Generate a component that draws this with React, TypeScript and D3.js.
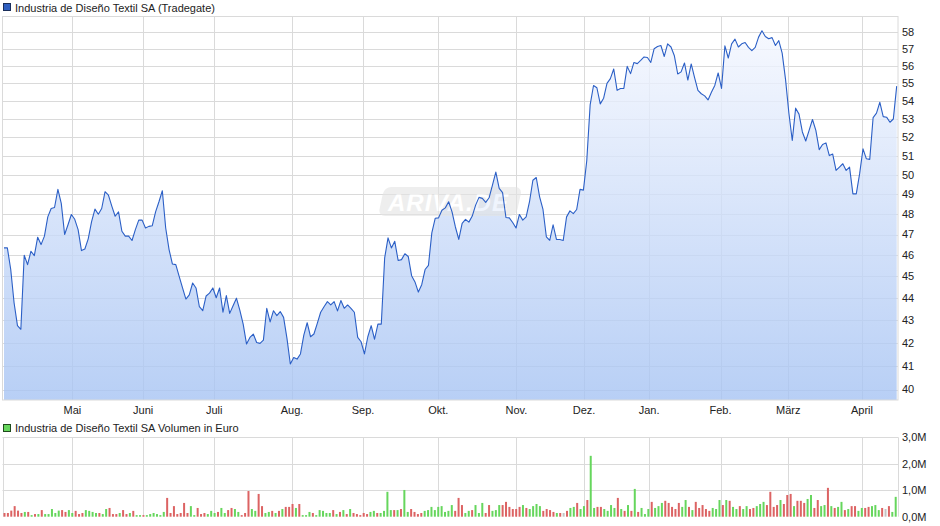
import React from "react";
import * as d3 from "d3";

// ---------- DATA ----------
const priceTitle = "Industria de Diseño Textil SA (Tradegate)";
const volumeTitle = "Industria de Diseño Textil SA Volumen in Euro";

const prices: number[] = [
  46.35, 46.35, 45.32, 43.77, 42.75, 42.59, 46.0, 45.55, 46.19, 45.98, 46.87, 46.51, 46.92, 47.87, 48.29, 48.34, 49.26, 48.55, 47.0, 47.48,
  47.99, 47.75, 47.24, 46.22, 46.3, 46.79, 47.63, 48.26, 48.0, 48.29, 49.14, 48.97, 48.41, 47.9, 48.12, 47.16, 46.92, 46.92, 46.71, 47.24,
  47.71, 47.71, 47.32, 47.4, 47.43, 48.12, 48.63, 49.19, 47.32, 46.27, 45.58, 45.55, 45.0, 44.46, 43.95, 44.14, 44.69, 44.46, 43.6, 43.42,
  44.09, 44.22, 44.46, 44.01, 44.46, 43.35, 44.11, 43.3, 43.64, 43.99, 43.45, 42.82, 41.94, 42.23, 42.38, 42.01, 41.97, 42.11, 43.53, 42.92,
  43.42, 43.2, 43.38, 43.12, 42.19, 41.08, 41.36, 41.29, 41.51, 42.33, 42.88, 42.26, 42.38, 42.85,
  43.35, 43.6, 43.83, 43.68, 43.83, 43.41, 43.88, 43.53, 43.68, 43.53, 43.35, 42.23, 42.04, 41.51, 42.26, 42.75, 42.15, 42.82, 42.82, 45.87,
  46.84, 46.35, 46.67, 45.75, 45.79, 46.07, 45.94, 45.03, 44.74, 44.27, 44.61, 45.32, 45.52, 47.08, 47.8, 47.82, 48.2, 48.32, 48.63, 48.12,
  47.37, 46.76, 47.55, 47.75, 47.61, 47.91, 48.46, 48.85, 48.8, 48.6, 48.83, 49.48, 50.15, 49.31, 49.09, 47.84, 47.82, 47.59, 47.32, 47.99,
  47.71, 47.87, 48.63, 49.73, 49.87, 48.88, 48.24, 46.89, 46.72, 47.48, 46.76, 46.76, 46.71, 47.87, 48.17, 48.03, 48.24, 49.26, 49.22,
  50.76, 53.78, 54.88, 54.75, 53.84, 54.16, 55.0, 55.27, 55.83, 54.6, 54.71, 54.71, 55.98, 55.56, 56.21, 56.14, 56.33, 56.53, 56.5, 56.21,
  57.02, 57.15, 57.21, 56.56, 57.31, 57.12, 56.6, 55.54, 55.66, 56.18, 55.19, 56.12, 55.33, 54.6, 54.41, 54.29, 54.06, 54.49, 54.88, 55.6,
  54.71, 57.19, 56.47, 57.31, 57.59, 57.12, 57.31, 57.39, 57.1, 56.9, 57.1, 57.71, 58.09, 57.75, 57.61, 57.68, 57.21, 57.5, 56.76, 55.23,
  53.32, 51.83, 53.6, 53.27, 52.29, 51.8, 52.38, 52.97, 52.38, 51.34, 51.61, 51.7, 51.02, 51.1, 50.24, 50.41, 50.59, 50.24, 50.41, 49.03,
  49.03, 50.07, 51.38, 50.85, 50.82, 53.08, 53.32, 53.93, 53.13, 53.1, 52.82, 53.0, 54.84,
];

// volume in millions of euro
const volumes: number[] = [
  0.14, 0.14, 0.23, 0.4, 0.23, 0.14, 0.18, 0.18, 0.06, 0.1, 0.1, 0.25, 0.1, 0.1, 0.29, 0.14, 0.23, 0.25, 0.18, 0.25,
  0.14, 0.22, 0.1, 0.14, 0.25, 0.22, 0.18, 0.14, 0.14, 0.1, 0.29, 0.33, 0.1, 0.1, 0.14, 0.25, 0.1, 0.14, 0.22, 0.06,
  0.06, 0.06, 0.06, 0.1, 0.14, 0.1, 0.06, 0.18, 0.71, 0.14, 0.4, 0.1, 0.14, 0.52, 0.14, 0.4, 0.06, 0.33, 0.1, 0.14,
  0.1, 0.22, 0.14, 0.18, 0.33, 0.14, 0.25, 0.33, 0.29, 0.18, 0.06, 0.14, 0.97, 0.29, 0.22, 0.86, 0.4, 0.14, 0.18, 0.22,
  0.14, 0.22, 0.29, 0.37, 0.37, 0.48, 0.33, 0.48, 0.06, 0.06, 0.18, 0.14, 0.06, 0.25, 0.22, 0.14, 0.14, 0.25, 0.1, 0.18,
  0.25, 0.1, 0.29, 0.14, 0.1, 0.06, 0.14, 0.1, 0.18, 0.22, 0.14, 0.14, 0.22, 0.94, 0.25, 0.25, 0.25, 0.29, 1.01, 0.18,
  0.29, 0.18, 0.1, 0.14, 0.22, 0.25, 0.37, 0.25, 0.37, 0.4, 0.18, 0.22, 0.44, 0.22, 0.71, 0.44, 0.14, 0.22,
  0.25, 0.44, 0.14, 0.52, 0.14, 0.44, 0.22, 0.25, 0.44, 0.44, 0.56, 0.37, 0.29, 0.29, 0.37, 0.44, 0.33, 0.29, 0.4, 0.48,
  0.4, 0.22, 0.29, 0.25, 0.18, 0.14, 0.14, 0.14, 0.22, 0.33, 0.37, 0.52, 0.29, 0.4, 0.63, 2.3, 0.33, 0.37, 0.37, 0.29,
  0.22, 0.44, 0.33, 0.71, 0.29, 0.22, 0.44, 0.22, 1.05, 0.18, 0.33, 0.1, 0.29, 0.56, 0.33, 0.4, 0.52, 0.6, 0.52, 0.37,
  0.29, 0.52, 0.37, 0.63, 0.37, 0.25, 0.56, 0.33, 0.44, 0.29, 0.22, 0.33, 0.29, 0.63, 0.44, 0.63, 0.6, 0.37, 0.29, 0.4,
  0.29, 0.4, 0.29, 0.33, 0.4, 0.48, 0.56, 0.44, 0.94, 0.37, 0.44, 0.63, 0.48, 0.82, 0.86, 0.4, 0.6, 0.6, 0.52, 0.67,
  0.82, 0.33, 0.63, 0.4, 0.44, 1.09, 0.4, 0.33, 0.37, 0.56, 0.25, 0.29, 0.4, 0.4, 0.22, 0.33, 0.33, 0.37, 0.4, 0.44,
  0.25, 0.33, 0.29, 0.4, 0.18, 0.75,
];

// day direction per volume bar: u = up, d = down, n = unchanged
const directions: string[] = [
  "d","d","d","d","d","d","u","d","u","d",
  "u","d","u","u","u","u","u","d","d","u",
  "u","d","d","d","u","u","u","u","d","u",
  "u","d","d","d","u","d","d","u","d","u",
  "u","d","u","u","u","u","u","u","d","d",
  "d","d","d","d","d","u","u","d","d","d",
  "u","u","u","d","u","u","d","d","u","u",
  "d","d","d","u","u","d","d","u","u","d",
  "u","d","u","d","d","d","u","d","u","u",
  "u","d","u","u","u","u","u","d","u","d",
  "u","d","u","d","d","d","d","d","u","u",
  "d","u","u","u","u","d","u","d","u","u",
  "d","d","d","d","u","u","u","u","u","u",
  "u","u","u","d","d","d","u","u",
  "d","u","u","u","d","d","u","u","u","d",
  "d","d","d","d","d","u","d","u","u","u",
  "u","d","d","d","d","u","d","n","d","u",
  "u","d","u","u","d","u","u","d","d","u",
  "u","u","u","d","u","d","u","d","u","d",
  "u","u","u","d","u","u","u","d","d","d",
  "d","d","u","u","d","u","d","d","d","d",
  "d","u","u","u","d","u","d","u","u","d",
  "u","u","d","d","u","u","u","d","d","d",
  "d","u","d","d","d","u","d","d","d","u",
  "u","d","d","u","u","d","u","d","u","u",
  "d","u","d","d","u","u","d","d","u","u",
  "u","d","n","d","u","u",
];

const monthLabels: string[] = ["Mai", "Juni", "Juli", "Aug.", "Sep.", "Okt.", "Nov.", "Dez.", "Jan.", "Feb.", "März", "April"];
// position of each month start, in trading-day index of the price series
const monthIndex: number[] = [20.3, 41.3, 62.4, 85.5, 106.6, 128.9, 152.1, 172.2, 191.5, 212.7, 232.8, 254.7];

const priceTicks: number[] = [40, 41, 42, 43, 44, 45, 46, 47, 48, 49, 50, 51, 52, 53, 54, 55, 56, 57, 58];
const volumeTicks: number[] = [0, 1, 2, 3];
const volumeTickLabels: string[] = ["0,0M", "1,0M", "2,0M", "3,0M"];

// ---------- LAYOUT ----------
const W = 940;
const H = 526;
const left = 2.5;
const right = 898;
const pTop = 16.5;
const pBottom = 400;
const vTop = 437.3;
const vBottom = 516.7;
const FONT = "'Liberation Sans', Arial, Helvetica, sans-serif";
const GRID = "#dadada";

export default function App() {
  const x = d3.scaleLinear().domain([0, prices.length - 1]).range([4, 896.7]);
  const xv = d3.scaleLinear().domain([0, volumes.length - 1]).range([4.5, 895.7]);
  const y = d3.scaleLog().domain([40, 58]).range([389.6, 32.3]);
  const yv = d3.scaleLinear().domain([0, 3]).range([vBottom, vTop]);

  const area = d3
    .area<number>()
    .x((_, i) => x(i))
    .y0(pBottom)
    .y1((d) => y(d));
  const line = d3
    .line<number>()
    .x((_, i) => x(i))
    .y((d) => y(d));

  const crisp = (v: number) => Math.round(v) + 0.5;

  const barColor = (dir: string) => (dir === "u" ? "#66d65d" : dir === "d" ? "#dc6363" : "#c4c4c4");

  return (
    <svg
      width={W}
      height={H}
      viewBox={`0 0 ${W} ${H}`}
      style={{ position: "absolute", left: 0, top: 0, background: "#fff" }}
      fontFamily={FONT}
    >
      <defs>
        <linearGradient id="pfill" x1="0" y1={pTop} x2="0" y2={pBottom} gradientUnits="userSpaceOnUse">
          <stop offset="0" stopColor="#f7f9ff" />
          <stop offset="1" stopColor="#a6c3f3" />
        </linearGradient>
      </defs>

      {/* ---- price panel ---- */}
      <rect x={left} y={pTop} width={right - left} height={pBottom - pTop} fill="#fff" />
      {priceTicks.map((t) => (
        <line key={"hg" + t} x1={left} x2={right} y1={crisp(y(t))} y2={crisp(y(t))} stroke={GRID} strokeWidth={1} />
      ))}
      {monthIndex.map((m, i) => (
        <line key={"vg" + i} x1={crisp(x(m))} x2={crisp(x(m))} y1={pTop} y2={pBottom} stroke={GRID} strokeWidth={1} />
      ))}
      <path d={area(prices) ?? ""} fill="url(#pfill)" fillOpacity={0.8} />

      {/* watermark */}
      <g opacity={0.6}>
        <rect x={384} y={187} width={138} height={29} rx={7} fill="#e4e4e4" transform="skewX(-12) translate(40,0)" />
        <text x={388} y={211} fontSize={24} fontWeight="bold" fontStyle="italic" fill="#ffffff" letterSpacing={1}>
          ARIVA.DE
        </text>
      </g>

      <path d={line(prices) ?? ""} fill="none" stroke="#2b5fc6" strokeWidth={1.1} strokeLinejoin="round" />
      <rect x={left} y={pTop} width={right - left} height={pBottom - pTop} fill="none" stroke={GRID} strokeWidth={1} />

      {priceTicks.map((t) => (
        <text key={"pl" + t} x={902} y={y(t)} dy="0.35em" fontSize={11} fill="#222">
          {t}
        </text>
      ))}
      {monthIndex.map((m, i) => (
        <text key={"ml" + i} x={x(m)} y={413.5} textAnchor="middle" fontSize={11} fill="#222">
          {monthLabels[i]}
        </text>
      ))}

      {/* price legend */}
      <rect x={3.5} y={3.5} width={7} height={7} fill="#2f5fc0" stroke="#1a2e5a" strokeWidth={1} />
      <text x={15} y={11.5} fontSize={11} fill="#222">
        {priceTitle}
      </text>

      {/* ---- volume panel ---- */}
      <rect x={3.5} y={424.5} width={7} height={7} fill="#66d65d" stroke="#1f4a1c" strokeWidth={1} />
      <text x={15} y={432} fontSize={11} fill="#222">
        {volumeTitle}
      </text>
      {volumeTicks.map((t) => (
        <line key={"vh" + t} x1={left} x2={right} y1={crisp(yv(t))} y2={crisp(yv(t))} stroke={t === 0 ? "none" : GRID} strokeWidth={1} />
      ))}
      {monthIndex.map((m, i) => (
        <line key={"vv" + i} x1={crisp(x(m))} x2={crisp(x(m))} y1={vTop} y2={vBottom} stroke={GRID} strokeWidth={1} />
      ))}
      <line x1={crisp(left)} x2={crisp(left)} y1={vTop} y2={vBottom} stroke={GRID} />
      <line x1={crisp(right)} x2={crisp(right)} y1={vTop} y2={vBottom} stroke={GRID} />
      {volumes.map((v, i) => (
        <rect
          key={"vb" + i}
          x={xv(i) - 1}
          y={yv(v)}
          width={2}
          height={vBottom - yv(v)}
          fill={barColor(directions[i] ?? "u")}
        />
      ))}
      {volumeTicks.map((t, i) => (
        <text key={"vl" + t} x={902} y={yv(t)} dy="0.35em" fontSize={11} fill="#222">
          {volumeTickLabels[i]}
        </text>
      ))}
    </svg>
  );
}
